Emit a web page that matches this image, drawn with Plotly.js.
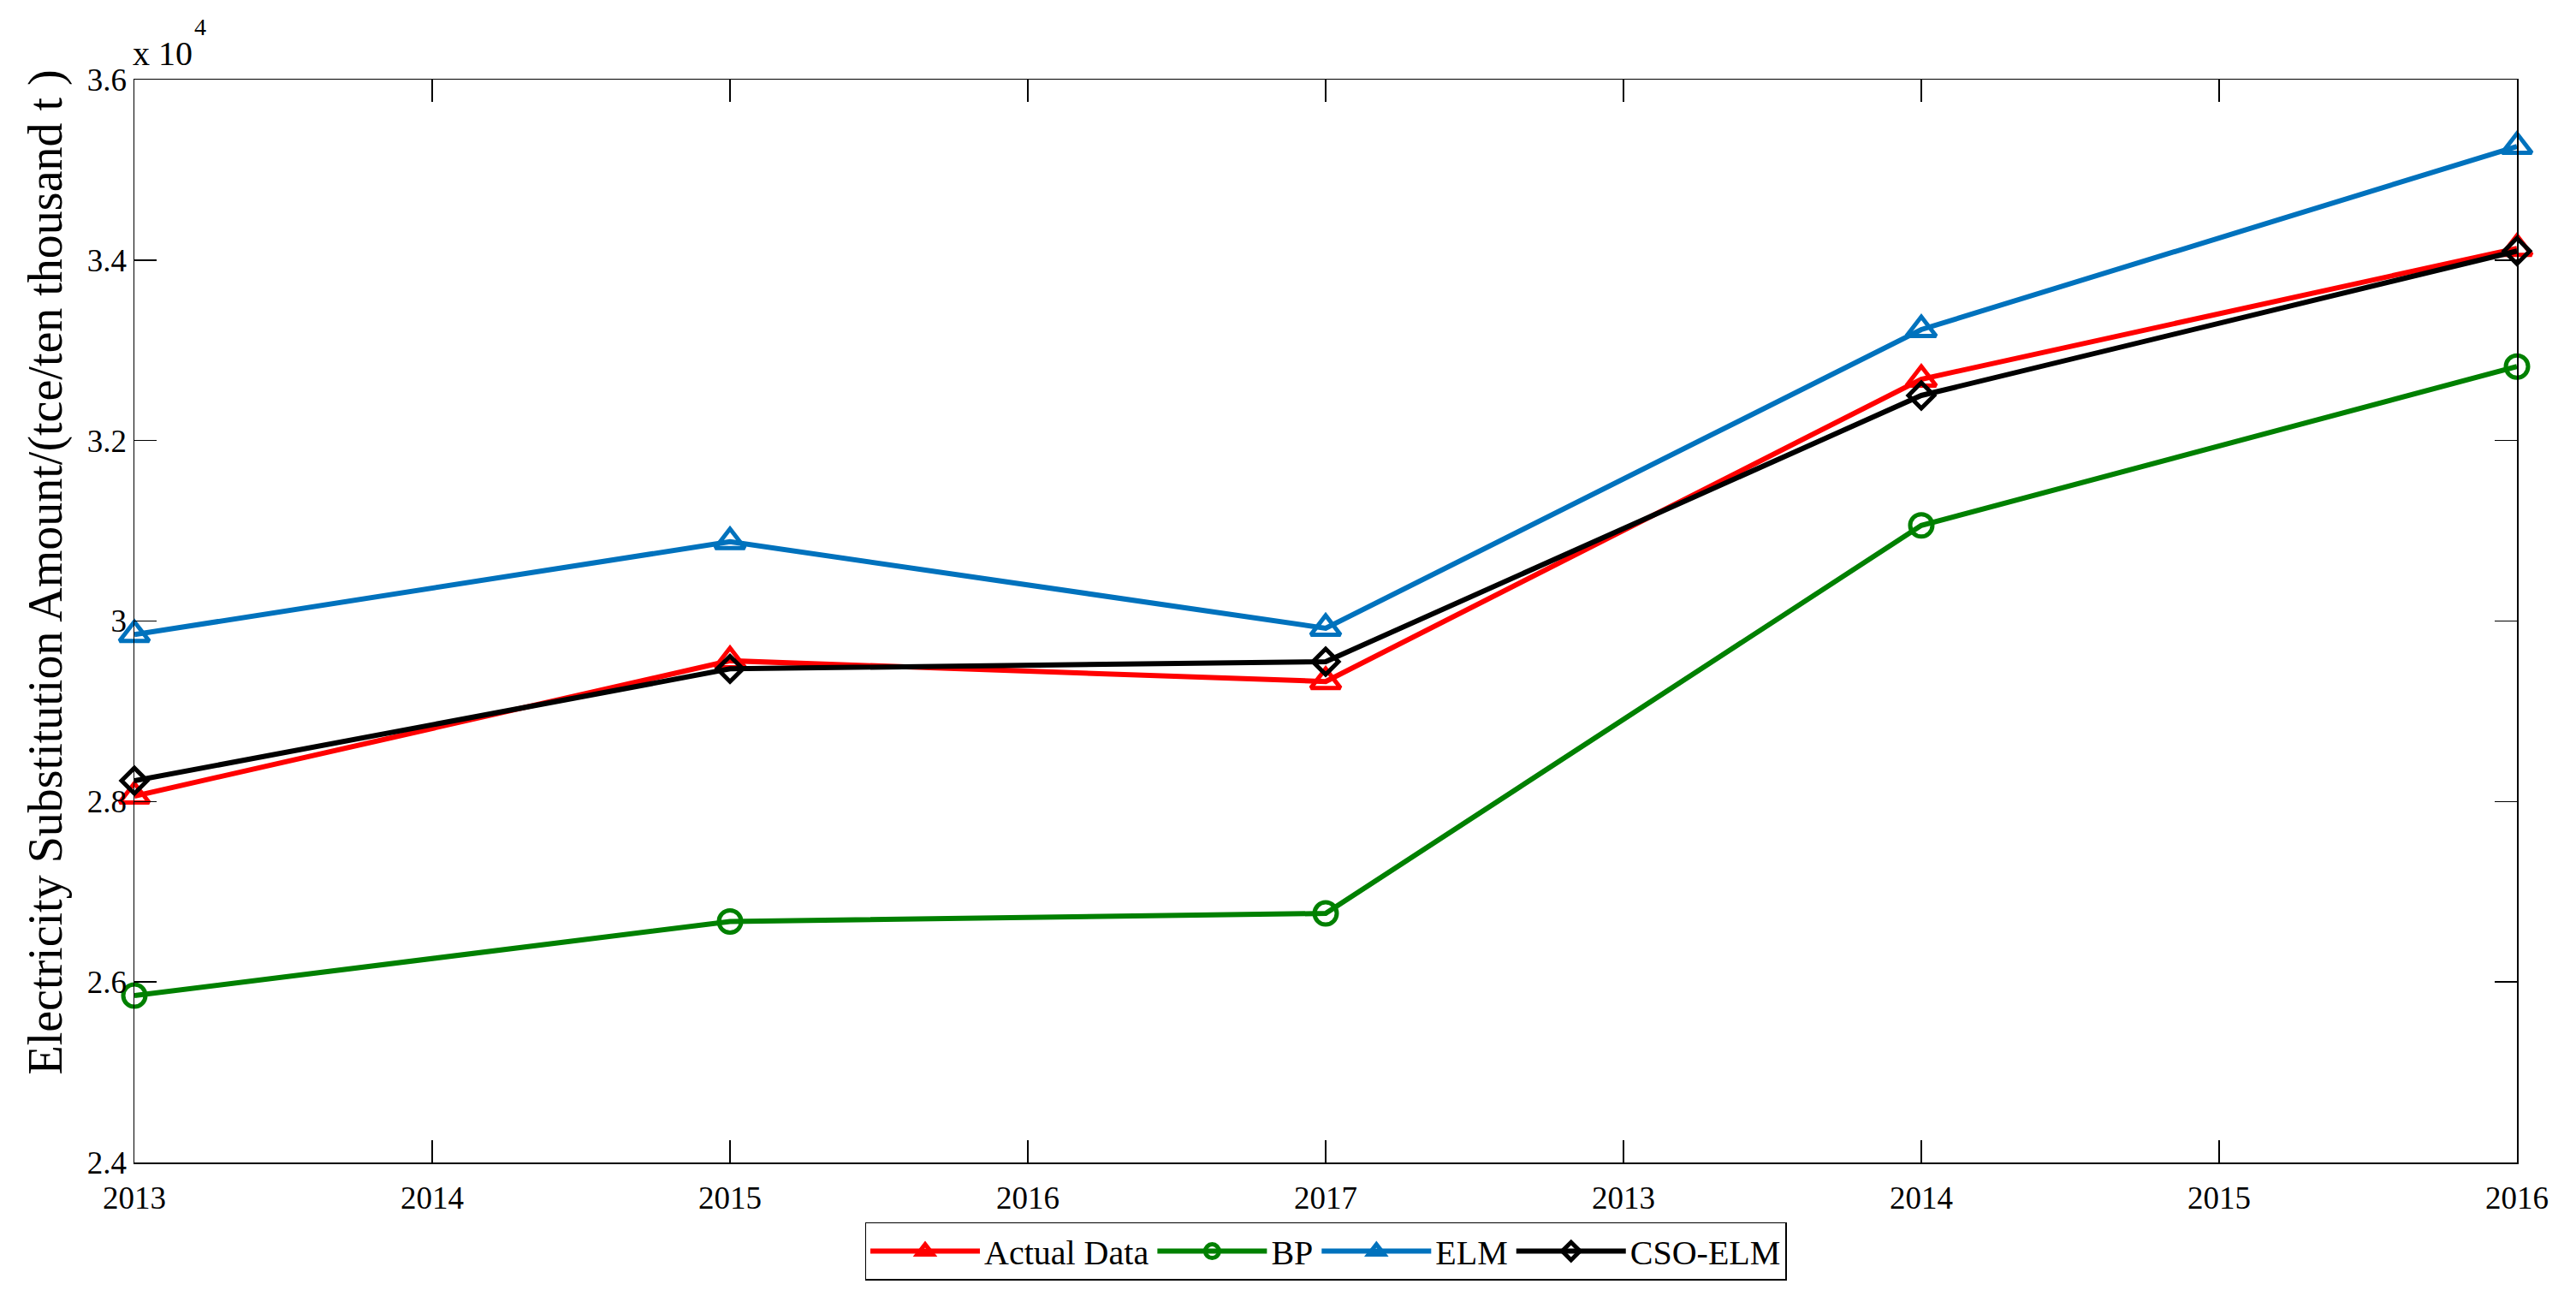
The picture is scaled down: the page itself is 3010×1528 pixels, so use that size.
<!DOCTYPE html>
<html>
<head>
<meta charset="utf-8">
<script src="https://cdn.plot.ly/plotly-3.0.1.min.js"></script>
<style>html,body{margin:0;padding:0;background:#fff;}#chart{width:3010px;height:1528px;}</style>
</head>
<body>
<div id="chart"></div>
<script>
// x positions (index) and tick labels
var xPos = [1, 3, 5, 7, 9];
var tickPositions = [1, 2, 3, 4, 5, 6, 7, 8, 9];
var tickLabels = ['2013', '2014', '2015', '2016', '2017', '2013', '2014', '2015', '2016'];
var yTickVals = [24000, 26000, 28000, 30000, 32000, 34000, 36000];
var yTickText = ['2.4', '2.6', '2.8', '3', '3.2', '3.4', '3.6'];

// series values (tce / ten thousand t)
var actualData = [28060, 29560, 29330, 32680, 34130];
var bpData     = [25850, 26670, 26760, 31060, 32820];
var elmData    = [29850, 30880, 29920, 33230, 35260];
var csoElmData = [28230, 29470, 29550, 32500, 34100];

var fontFam = '"Liberation Serif", "Times New Roman", serif';

function mk(name, y, color, symbol, size) {
  return {
    x: xPos, y: y, name: name, type: 'scatter', mode: 'lines+markers',
    cliponaxis: false,
    line: {color: color, width: 6},
    marker: {symbol: symbol, size: size, color: color, line: {color: color, width: 5}}
  };
}

var traces = [
  mk('Actual Data', actualData, '#FF0000', 'triangle-up-open', 30),
  mk('BP', bpData, '#008000', 'circle-open', 26),
  mk('ELM', elmData, '#0072BD', 'triangle-up-open', 30),
  mk('CSO-ELM', csoElmData, '#000000', 'diamond-open', 23)
];

var layout = {
  width: 3010, height: 1528,
  paper_bgcolor: '#fff', plot_bgcolor: '#fff',
  margin: {l: 157, r: 69, t: 93, b: 170},
  font: {family: fontFam, size: 36, color: '#000'},
  showlegend: true,
  xaxis: {
    range: [1, 9], tickmode: 'array', tickvals: tickPositions, ticktext: tickLabels,
    ticks: 'inside', ticklen: 26, tickwidth: 1.5, tickcolor: '#000',
    showline: true, linecolor: '#000', linewidth: 1.5, mirror: 'ticks',
    showgrid: false, zeroline: false, ticklabelstandoff: 8,
    tickfont: {family: fontFam, size: 37, color: '#000'}
  },
  yaxis: {
    range: [24000, 36000], tickmode: 'array', tickvals: yTickVals, ticktext: yTickText,
    ticks: 'inside', ticklen: 26, tickwidth: 1.5, tickcolor: '#000',
    showline: true, linecolor: '#000', linewidth: 1.5, mirror: 'ticks',
    showgrid: false, zeroline: false,
    tickfont: {family: fontFam, size: 37, color: '#000'}
  },
  legend: {
    orientation: 'h', x: 0.5, xanchor: 'center', y: -0.055, yanchor: 'top',
    bordercolor: '#000', borderwidth: 1.5, bgcolor: '#fff',
    font: {family: fontFam, size: 40, color: '#000'},
    itemwidth: 128, tracegroupgap: 0
  },
  annotations: [
    {
      text: 'Electricity Substitution Amount/(tce/ten thousand t )',
      textangle: -90, xref: 'paper', yref: 'paper', x: -0.037, y: 0.545,
      xanchor: 'center', yanchor: 'middle', showarrow: false,
      font: {family: fontFam, size: 56, color: '#000'}
    },
    {
      text: 'x 10', xref: 'paper', yref: 'paper', x: 0, y: 1,
      xanchor: 'left', yanchor: 'bottom', yshift: 6, xshift: -4, showarrow: false,
      font: {family: fontFam, size: 40, color: '#000'}
    },
    {
      text: '4', xref: 'paper', yref: 'paper', x: 0, y: 1,
      xanchor: 'left', yanchor: 'bottom', yshift: 44, xshift: 68, showarrow: false,
      font: {family: fontFam, size: 28, color: '#000'}
    }
  ]
};

Plotly.newPlot('chart', traces, layout, {displayModeBar: false, staticPlot: true});
</script>
</body>
</html>
